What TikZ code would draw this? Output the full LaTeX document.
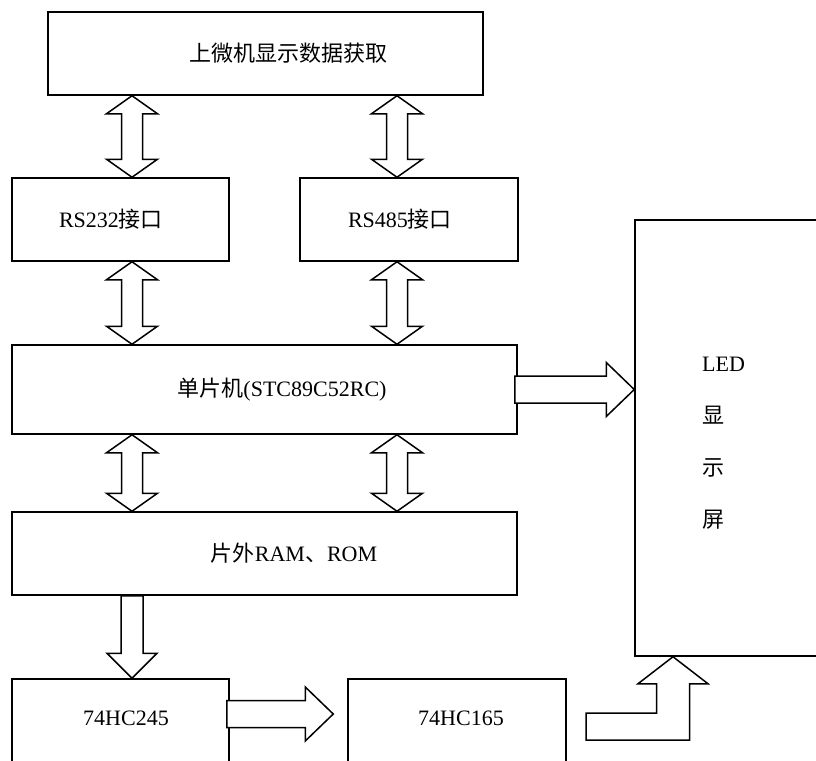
\documentclass[tikz,border=0pt]{standalone}
\usepackage{fontspec}
\setmainfont{Liberation Serif}
\newfontfamily\cjk{Noto Sans CJK SC}
\usetikzlibrary{calc}

% block arrows (sizes in pt)
\newcommand{\dblarrow}[2]{%
  \draw[blk] let \p1=(#1), \p2=(#2) in
    (\x1,\y1) -- (\x1+25.5pt,\y1-18pt) -- (\x1+10.5pt,\y1-18pt)
    -- (\x1+10.5pt,\y2+18pt) -- (\x1+25.5pt,\y2+18pt) -- (\x1,\y2)
    -- (\x1-25.5pt,\y2+18pt) -- (\x1-10.5pt,\y2+18pt)
    -- (\x1-10.5pt,\y1-18pt) -- (\x1-25.5pt,\y1-18pt) -- cycle;}
\newcommand{\dnarrow}[2]{%
  \draw[blk] let \p1=(#1), \p2=(#2) in
    (\x1-11pt,\y1) -- (\x1+11pt,\y1) -- (\x1+11pt,\y2+25pt) -- (\x1+25pt,\y2+25pt)
    -- (\x1,\y2) -- (\x1-25pt,\y2+25pt) -- (\x1-11pt,\y2+25pt) -- cycle;}
\newcommand{\rtarrow}[2]{%
  \draw[blk] let \p1=(#1), \p2=(#2) in
    (\x1,\y2+13.5pt) -- (\x2-28pt,\y2+13.5pt) -- (\x2-28pt,\y2+27pt) -- (\x2,\y2)
    -- (\x2-28pt,\y2-27pt) -- (\x2-28pt,\y2-13.5pt) -- (\x1,\y2-13.5pt) -- cycle;}
\newcommand{\bentarrow}[2]{%
  \draw[blk] let \p1=(#1), \p2=(#2) in
    (\x1,\y1-13.5pt) -- (\x1,\y1+13.5pt) -- (\x2-16.5pt,\y1+13.5pt) -- (\x2-16.5pt,\y2-27pt)
    -- (\x2-35pt,\y2-27pt) -- (\x2,\y2) -- (\x2+35pt,\y2-27pt) -- (\x2+16.5pt,\y2-27pt)
    -- (\x2+16.5pt,\y1-13.5pt) -- cycle;}

\begin{document}
\begin{tikzpicture}[x=1pt, y=-1pt]
\tikzset{
  box/.style={draw, line width=1.5pt, inner sep=0pt},
  txt/.style={font=\fontsize{22}{26}\selectfont, inner sep=0pt},
  blk/.style={draw, line width=1.5pt, fill=white, line join=miter}
}
\useasboundingbox (0,0) rectangle (816,760);
\clip (0,0) rectangle (816,760);
\coordinate (colL) at (132,0); \coordinate (colR) at (397,0);
\coordinate (busB) at (0,714); \coordinate (tail) at (586,726.5);
\coordinate (colT) at (673,0);
\node (pc)[box, minimum width=435, minimum height=83,
  label={[txt, xshift=22.5pt]center:{\cjk 上微机显示数据获取}}] at (265.5,53.5) {};
\node (rs232)[box, minimum width=217, minimum height=83,
  label={[txt, xshift=-9.5pt]center:RS232{\cjk 接口}}] at (120.5,219.5) {};
\node (rs485)[box, minimum width=218, minimum height=83,
  label={[txt, xshift=-9pt]center:RS485{\cjk 接口}}] at (409,219.5) {};
\node (mcu)[box, minimum width=505, minimum height=89,
  label={[txt, xshift=17.5pt]center:{\cjk 单片机}(STC89C52RC)}] at (264.5,389.5) {};
\node (mem)[box, minimum width=505, minimum height=83,
  label={[txt, xshift=29.5pt]center:{\cjk 片外}RAM{\cjk 、}ROM}] at (264.5,553.5) {};
\node (hc245)[box, minimum width=217, minimum height=84,
  label={[txt, xshift=5.5pt, yshift=3pt]center:74HC245}] at (120.5,721) {};
\node (hc165)[box, minimum width=218, minimum height=84,
  label={[txt, xshift=4pt, yshift=3pt]center:74HC165}] at (457,721) {};
\node (led)[box, minimum width=205, minimum height=436,
  label={[txt, align=left, font=\fontsize{22}{52}\selectfont, xshift=-14pt, yshift=-5pt]center:LED\\{\cjk 显}\\{\cjk 示}\\{\cjk 屏}}] at (737.5,438) {};
\dblarrow{pc.south -| colL}{rs232.north -| colL}
\dblarrow{pc.south -| colR}{rs485.north -| colR}
\dblarrow{rs232.south -| colL}{mcu.north -| colL}
\dblarrow{rs485.south -| colR}{mcu.north -| colR}
\dblarrow{mcu.south -| colL}{mem.north -| colL}
\dblarrow{mcu.south -| colR}{mem.north -| colR}
\dnarrow{mem.south -| colL}{hc245.north -| colL}
\rtarrow{$(mcu.east)+(-3,0)$}{mcu.east -| led.west}
\rtarrow{$(hc245.east |- busB)+(-3,0)$}{$(hc165.west |- busB)+(-14,0)$}
\bentarrow{tail}{led.south -| colT}
\end{tikzpicture}
\end{document}
